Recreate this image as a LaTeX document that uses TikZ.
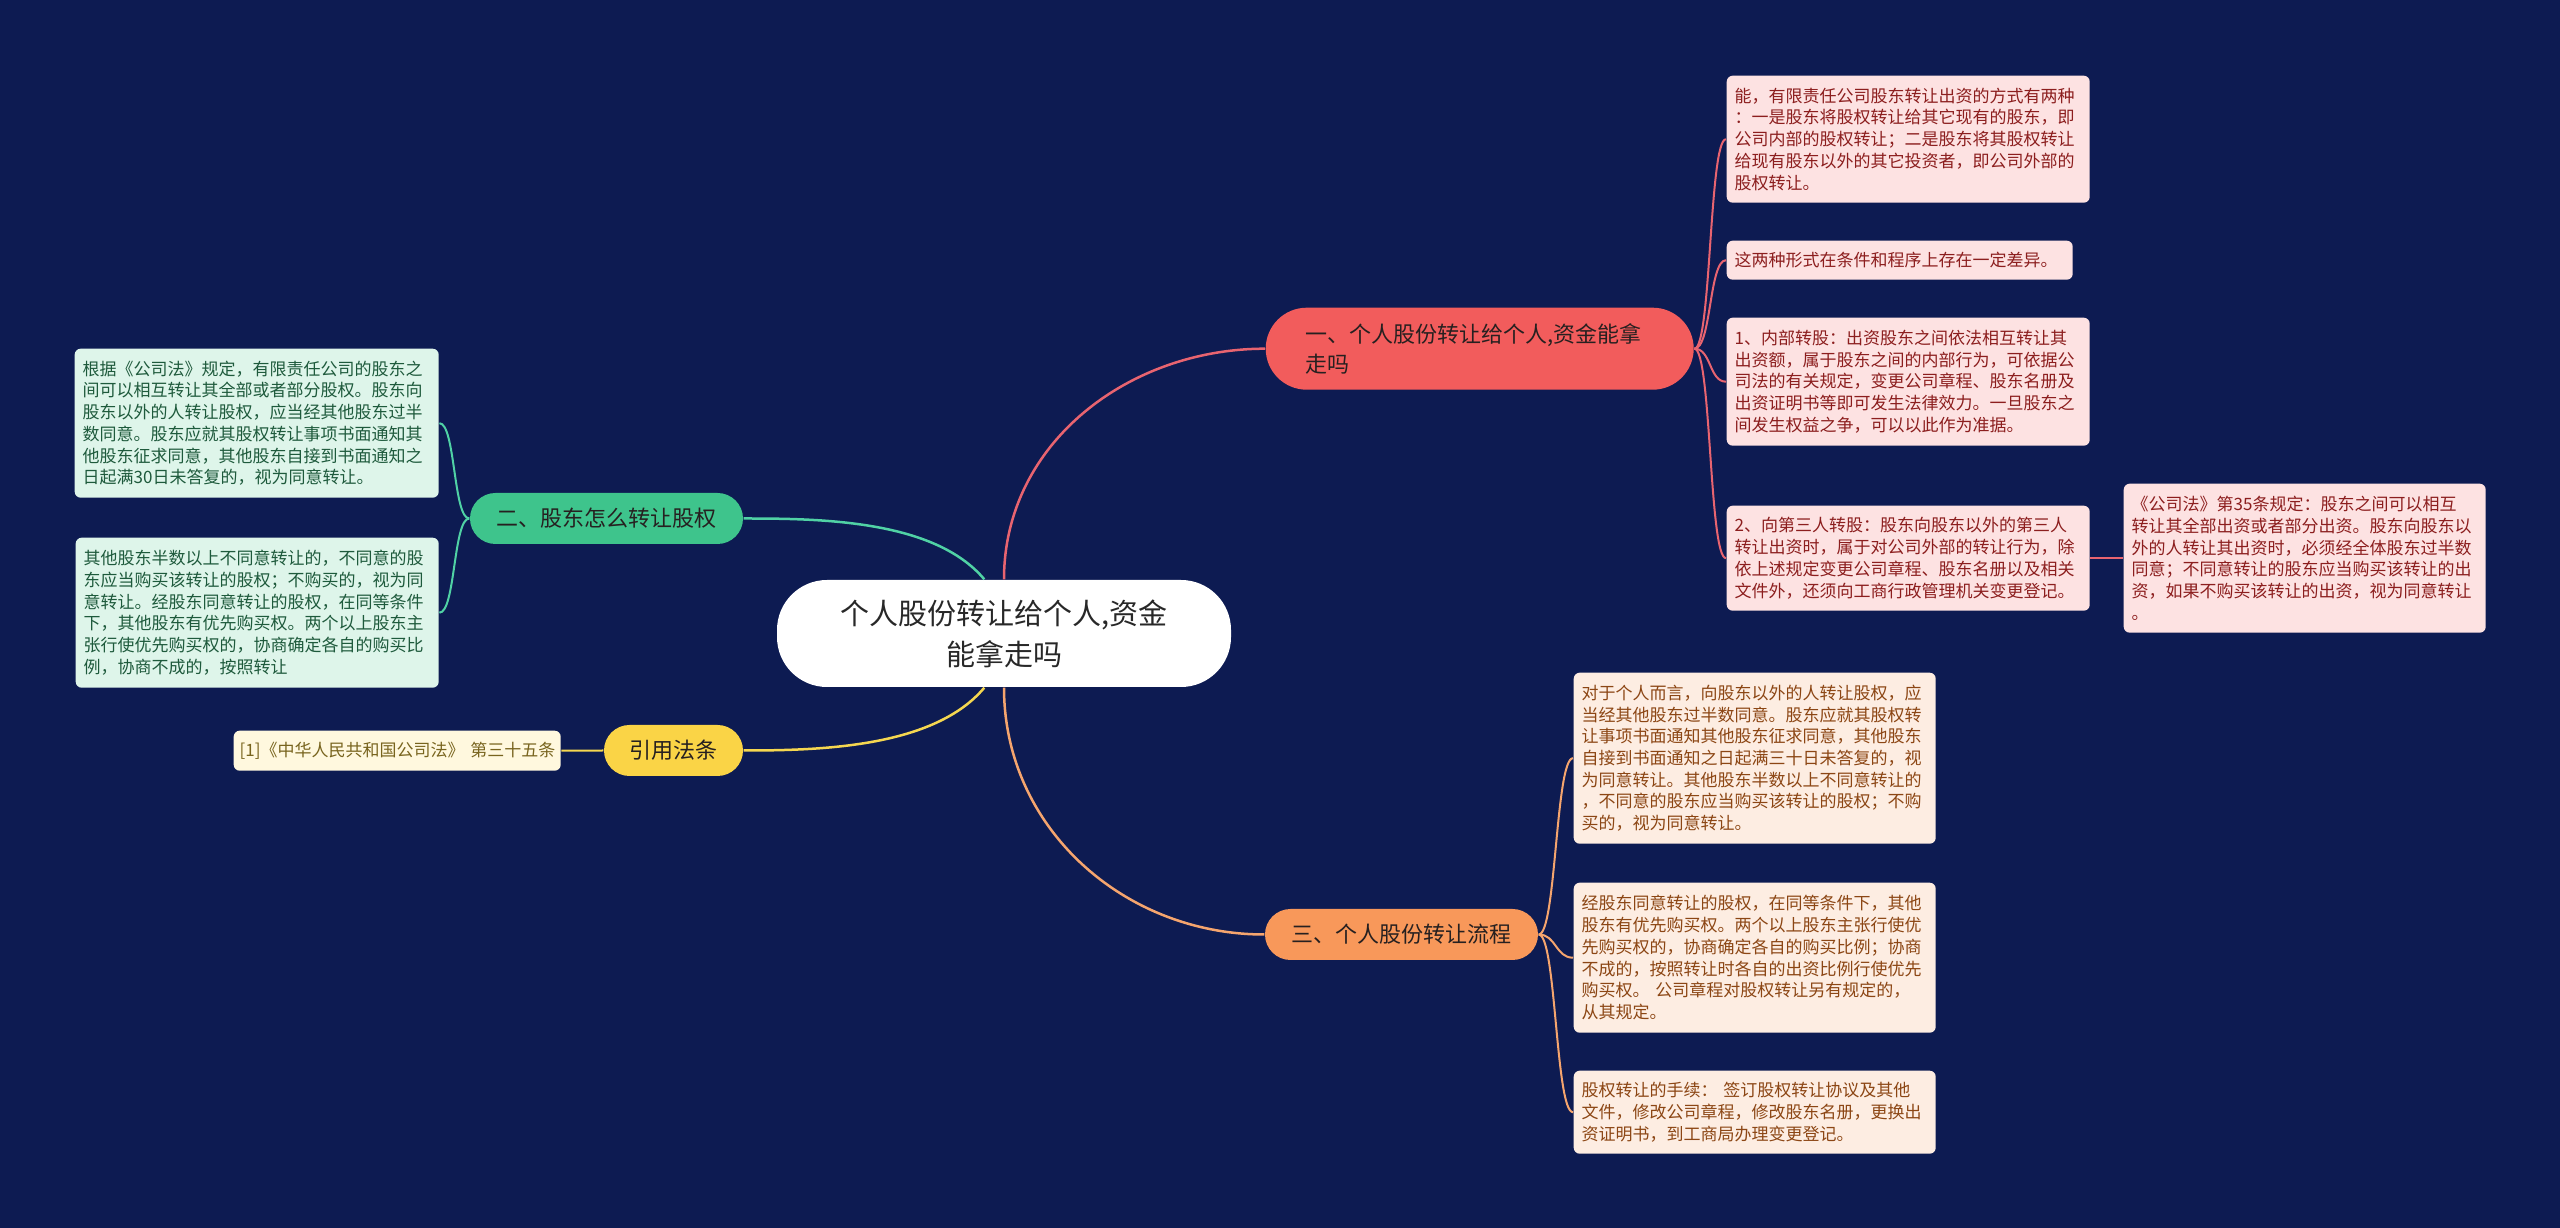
\documentclass[tikz,border=0pt]{standalone}
\usepackage{fontspec}
\setmainfont{Noto Sans CJK SC}
\usepackage{tikz}
\usetikzlibrary{calc, positioning}

\definecolor{bgnavy}{RGB}{13,27,82}
\definecolor{rootink}{RGB}{40,40,40}
\definecolor{branchink}{RGB}{38,32,32}
\definecolor{redfill}{RGB}{242,92,92}
\definecolor{greenfill}{RGB}{62,196,140}
\definecolor{yellowfill}{RGB}{250,212,70}
\definecolor{orangefill}{RGB}{248,152,90}
\definecolor{redline}{RGB}{232,100,112}
\definecolor{greenline}{RGB}{80,210,165}
\definecolor{yellowline}{RGB}{245,215,80}
\definecolor{orangeline}{RGB}{245,165,110}
\definecolor{pinkleaf}{RGB}{253,226,226}
\definecolor{pinkink}{RGB}{140,30,30}
\definecolor{mintleaf}{RGB}{222,245,234}
\definecolor{mintink}{RGB}{30,90,60}
\definecolor{creamleaf}{RGB}{255,248,222}
\definecolor{creamink}{RGB}{120,100,30}
\definecolor{peachleaf}{RGB}{253,237,226}
\definecolor{peachink}{RGB}{140,70,20}

\begin{document}
\begin{tikzpicture}[
    rootbox/.style={fill=white, text=rootink, rounded corners=0.5cm, align=center,
      minimum width=4.54cm, minimum height=1.07cm, font=\fontsize{0.29cm}{0.41cm}\selectfont},
    branchbox/.style={text=branchink, rounded corners=0.255cm, align=center,
      minimum height=0.51cm, inner sep=0pt, font=\fontsize{0.22cm}{0.295cm}\selectfont},
    leafbox/.style={rounded corners=0.06cm, anchor=north west, align=left,
      inner xsep=0.08cm, inner ysep=0.03cm, text width=3.47cm,
      font=\fontsize{0.17cm}{0.217cm}\selectfont},
    pinkbox/.style={leafbox, fill=pinkleaf, text=pinkink},
    mintbox/.style={leafbox, fill=mintleaf, text=mintink},
    creambox/.style={leafbox, fill=creamleaf, text=creamink},
    peachbox/.style={leafbox, fill=peachleaf, text=peachink},
    mainlink/.style={line width=0.025cm},
    leaflink/.style={line width=0.02cm}
  ]

% Background
        \fill[bgnavy] (0,0) rectangle (25.6,-12.28);
        \useasboundingbox (0,0) rectangle (25.6,-12.28);

% Central node
        \node[rootbox] (root) at (10.04,-6.335) {个人股份转让给个人,资金\\能拿走吗};

% Main branches
        \node[branchbox, fill=redfill, anchor=north west, align=left, text width=3.48cm,
          inner xsep=0.4cm, minimum height=0.82cm, rounded corners=0.41cm]
          (br1) at (12.65,-3.07) {一、个人股份转让给个人,资金能拿\\走吗};
        \node[branchbox, fill=greenfill, minimum width=2.73cm] (br2) at (6.065,-5.185) {二、股东怎么转让股权};
        \node[branchbox, fill=yellowfill, minimum width=1.39cm] (cite) at (6.735,-7.505) {引用法条};
        \node[branchbox, fill=orangefill, minimum width=2.73cm] (br3) at (14.015,-9.345) {三、个人股份转让流程};

        \draw[mainlink, redline] (root.north) to[out=90, in=180] (br1.west);
        \draw[mainlink, greenline] (root.110) to[out=130, in=0, looseness=0.8] (br2.east);
        \draw[mainlink, yellowline] (root.250) to[out=230, in=0, looseness=0.8] (cite.east);
        \draw[mainlink, orangeline] (root.south) to[out=270, in=180] (br3.west);

% Leaves of branch one
        \node[pinkbox, minimum height=1.27cm] (l1a) at (17.26,-0.75)
          {能，有限责任公司股东转让出资的方式有两种\\：一是股东将股权转让给其它现有的股东，即\\公司内部的股权转让；二是股东将其股权转让\\给现有股东以外的其它投资者，即公司外部的\\股权转让。};
        \node[pinkbox, minimum height=0.39cm, text width=3.30cm] (l1b) at (17.26,-2.40)
          {这两种形式在条件和程序上存在一定差异。};
        \node[pinkbox, minimum height=1.28cm] (l1c) at (17.26,-3.17)
          {1、内部转股：出资股东之间依法相互转让其\\出资额，属于股东之间的内部行为，可依据公\\司法的有关规定，变更公司章程、股东名册及\\出资证明书等即可发生法律效力。一旦股东之\\间发生权益之争，可以以此作为准据。};
        \node[pinkbox, minimum height=1.05cm] (l1d) at (17.26,-5.05)
          {2、向第三人转股：股东向股东以外的第三人\\转让出资时，属于对公司外部的转让行为，除\\依上述规定变更公司章程、股东名册以及相关\\文件外，还须向工商行政管理机关变更登记。};
        \node[pinkbox, minimum height=1.49cm, text width=3.46cm] (l1e) at (21.23,-4.83)
          {《公司法》第35条规定：股东之间可以相互\\转让其全部出资或者部分出资。股东向股东以\\外的人转让其出资时，必须经全体股东过半数\\同意；不同意转让的股东应当购买该转让的出\\资，如果不购买该转让的出资，视为同意转让\\。};

        \foreach \leaf in {l1a,l1b,l1c,l1d}
          \draw[leaflink, redline] (br1.east) .. controls +(0.17,0) and +(-0.17,0) .. (\leaf.west);
        \draw[leaflink, redline] (l1d.east) -- (l1e.west);

% Leaves of branch two
        \node[mintbox, minimum height=1.49cm, text width=3.48cm] (l2a) at (0.74,-3.48)
          {根据《公司法》规定，有限责任公司的股东之\\间可以相互转让其全部或者部分股权。股东向\\股东以外的人转让股权，应当经其他股东过半\\数同意。股东应就其股权转让事项书面通知其\\他股东征求同意，其他股东自接到书面通知之\\日起满30日未答复的，视为同意转让。};
        \node[mintbox, minimum height=1.50cm] (l2b) at (0.75,-5.37)
          {其他股东半数以上不同意转让的，不同意的股\\东应当购买该转让的股权；不购买的，视为同\\意转让。经股东同意转让的股权，在同等条件\\下，其他股东有优先购买权。两个以上股东主\\张行使优先购买权的，协商确定各自的购买比\\例，协商不成的，按照转让};

        \foreach \leaf in {l2a,l2b}
          \draw[leaflink, greenline] (br2.west) .. controls +(-0.16,0) and +(0.16,0) .. (\leaf.east);

% Cited law
        \node[creambox, minimum height=0.40cm, text width=3.15cm, inner xsep=0.06cm] (law) at (2.33,-7.30)
          {\mbox{[1]《中华人民共和国公司法》 第三十五条}};
        \draw[leaflink, yellowline] (cite.west) -- (law.east);

% Leaves of branch three
        \node[peachbox, minimum height=1.71cm, text width=3.46cm] (l3a) at (15.73,-6.72)
          {对于个人而言，向股东以外的人转让股权，应\\当经其他股东过半数同意。股东应就其股权转\\让事项书面通知其他股东征求同意，其他股东\\自接到书面通知之日起满三十日未答复的，视\\为同意转让。其他股东半数以上不同意转让的\\，不同意的股东应当购买该转让的股权；不购\\买的，视为同意转让。};
        \node[peachbox, minimum height=1.50cm, text width=3.46cm] (l3b) at (15.73,-8.82)
          {经股东同意转让的股权，在同等条件下，其他\\股东有优先购买权。两个以上股东主张行使优\\先购买权的，协商确定各自的购买比例；协商\\不成的，按照转让时各自的出资比例行使优先\\购买权。 公司章程对股权转让另有规定的，\\从其规定。};
        \node[peachbox, minimum height=0.83cm, text width=3.46cm] (l3c) at (15.73,-10.70)
          {股权转让的手续： 签订股权转让协议及其他\\文件，修改公司章程，修改股东名册，更换出\\资证明书，到工商局办理变更登记。};

        \foreach \leaf in {l3a,l3b,l3c}
          \draw[leaflink, orangeline] (br3.east) .. controls +(0.175,0) and +(-0.175,0) .. (\leaf.west);

      \end{tikzpicture}
\end{document}
